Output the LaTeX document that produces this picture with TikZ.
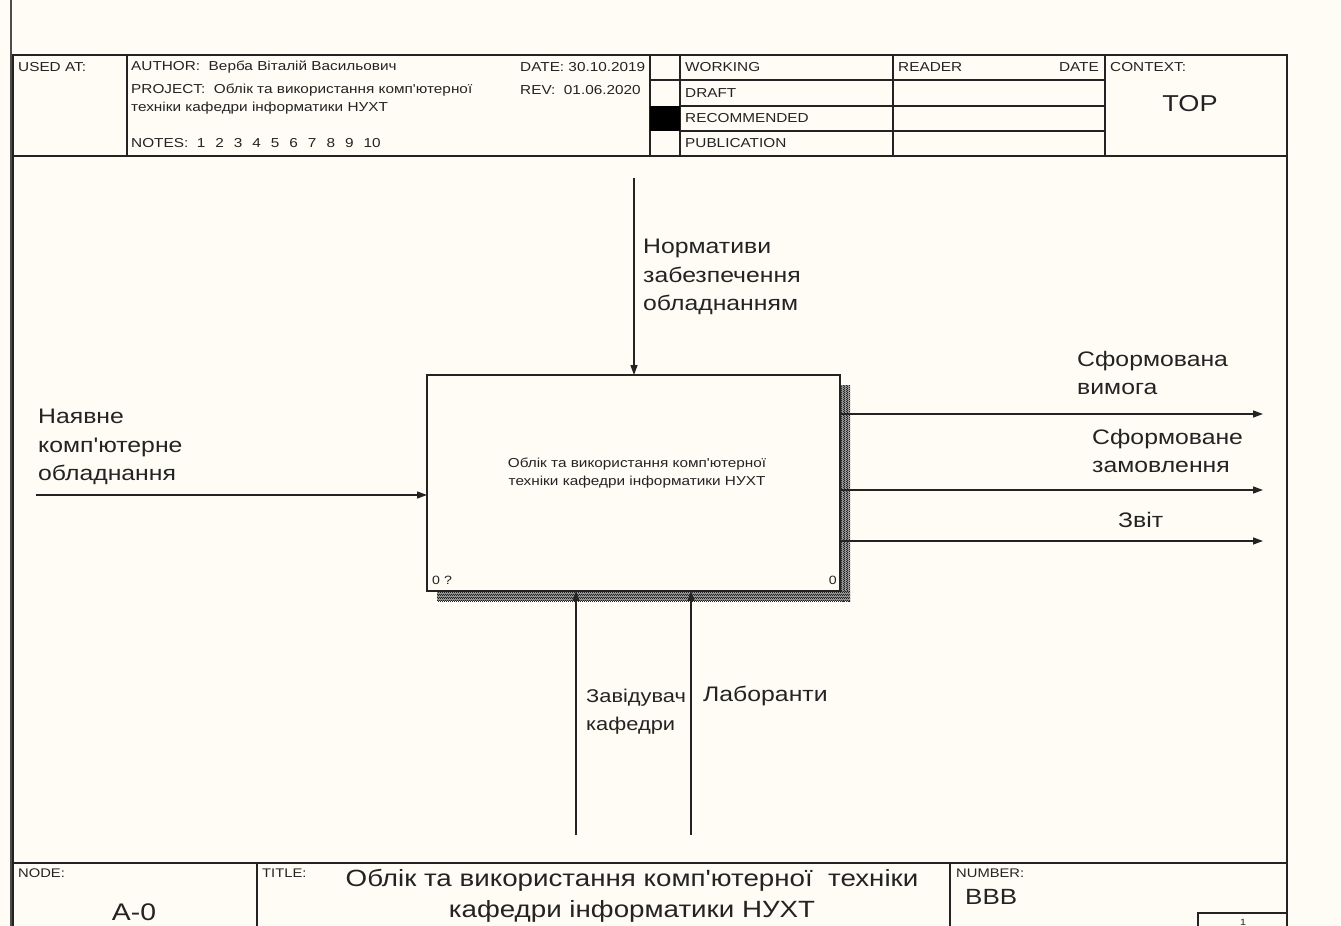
\documentclass[tikz,border=0pt]{standalone}
\usepackage{fontspec}
\setmainfont{Liberation Sans}[FakeStretch=1.18,Ligatures=TeXOff]
\usetikzlibrary{arrows.meta,patterns}
\definecolor{bg}{RGB}{254,252,244}
\definecolor{ln}{RGB}{35,35,35}
\pgfdeclarepatternformonly{finechecker}{\pgfpointorigin}{\pgfqpoint{2.4pt}{2.4pt}}{\pgfqpoint{2.4pt}{2.4pt}}{%
  \pgfpathrectangle{\pgfpointorigin}{\pgfqpoint{1.2pt}{1.2pt}}%
  \pgfpathrectangle{\pgfqpoint{1.2pt}{1.2pt}}{\pgfqpoint{1.2pt}{1.2pt}}%
  \pgfusepath{fill}}
\begin{document}
\begin{tikzpicture}[x=1pt,y=-1pt,
 frame/.style={draw=ln,line width=1.3pt},
 hdr/.style={font=\fontsize{13}{15}\selectfont,inner sep=0,anchor=west,text=ln},
 tiny/.style={font=\fontsize{12.5}{14}\selectfont,inner sep=0,anchor=west,text=ln},
 lbl/.style={font=\fontsize{21}{28.5}\selectfont,inner sep=0,anchor=north west,align=left,text=ln},
 shadow/.style={fill=ln!45,postaction={pattern=finechecker,pattern color=ln}},
 flow/.style={draw=ln,line width=1.3pt,-{Triangle[length=10pt,width=7pt]}}]
\useasboundingbox[fill=bg] (0,0) rectangle (1341,926);
% left edge
\draw[line width=2.5pt,draw=gray!60!black] (11,0) -- (11,926);
% header
\draw[frame] (13,55) rectangle (1287,156);
\foreach \x in {127,650,680,893,1105} \draw[frame] (\x,55) -- (\x,156);
\draw[frame] (650,80) -- (1105,80);
\draw[frame] (680,106) -- (1105,106);
\draw[frame] (680,131) -- (1105,131);
\fill[black] (650,106) rectangle (680,131);
\node[hdr] (usedat) at (18,67) {USED AT:};
\node[hdr] (author) at (131,67) {AUTHOR:\ \ Верба Віталій Васильович};
\node[hdr] (proj) at (131,90) {PROJECT:\ \ Облік та використання комп'ютерної};
\node[hdr] (proj2) at (131,108) {техніки кафедри інформатики НУХТ};
\node[hdr] (notes) at (131,143) {NOTES:\hspace{8.5pt}1\hspace{10pt}2\hspace{10pt}3\hspace{10pt}4\hspace{10pt}5\hspace{10pt}6\hspace{10pt}7\hspace{10pt}8\hspace{10pt}9\hspace{10pt}10};
\node[hdr] (date) at (520,67) {DATE: 30.10.2019};
\node[hdr] (rev) at (520,90) {REV:\ \ 01.06.2020};
\node[hdr] (working) at (685,67) {WORKING};
\node[hdr] (draft) at (685,93) {DRAFT};
\node[hdr] (recom) at (685,118) {RECOMMENDED};
\node[hdr] (publ) at (685,143) {PUBLICATION};
\node[hdr] (reader) at (898,67) {READER};
\node[hdr,anchor=east] (rdate) at (1099,67) {DATE};
\node[hdr] (context) at (1110,67) {CONTEXT:};
\node[font=\fontsize{23}{26}\selectfont,inner sep=0,text=ln] (top) at (1190,104) {TOP};
% body frame
\draw[frame] (13,156) -- (13,926);
\draw[frame] (1287,156) -- (1287,926);
\draw[frame] (13,863) -- (1287,863);
\draw[frame] (257,863) -- (257,926);
\draw[frame] (950,863) -- (950,926);
\draw[frame] (1198,926) -- (1198,913) -- (1287,913);
\node[font=\fontsize{9}{10}\selectfont,inner sep=0,text=ln] (pg) at (1243,922) {1};
% footer texts
\node[tiny] (nodelbl) at (18,873) {NODE:};
\node[tiny] (titlelbl) at (262,873) {TITLE:};
\node[tiny] (numlbl) at (956,873) {NUMBER:};
\node[font=\fontsize{24}{26}\selectfont,inner sep=0,text=ln] (a0) at (134,912) {A-0};
\node[font=\fontsize{23.5}{31}\selectfont,inner sep=0,align=center,text=ln] (title) at (632,896) {Облік та використання комп'ютерної\ \ техніки\\кафедри інформатики НУХТ};
\node[font=\fontsize{22}{24}\selectfont,inner sep=0,anchor=west,text=ln] (bbb) at (965,897) {BBB};
% shadow
\path[shadow] (840,385) rectangle (850,601);
\path[shadow] (437,591) rectangle (850,601);
% main box
\node[draw=ln,line width=1.3pt,fill=bg,minimum width=413pt,minimum height=216pt,inner sep=0,outer sep=0] (box) at (633.5,483) {};
\node[font=\fontsize{13}{18}\selectfont,inner sep=0,align=center,text=ln] (boxtxt) at (637,473) {Облік та використання комп'ютерної\\техніки кафедри інформатики НУХТ};
\node[font=\fontsize{12}{14}\selectfont,inner sep=0,anchor=west,text=ln] (num1) at (432,580) {0 ?};
\node[font=\fontsize{12}{14}\selectfont,inner sep=0,anchor=east,text=ln] (num2) at (837,580) {0};
% flows
\coordinate (ctlS) at (634,178);
\draw[flow] (ctlS) -- (ctlS |- box.north);
\coordinate (inS) at (36,495);
\draw[flow] (inS) -- (inS -| box.west);
\coordinate (o1) at (1263,414);
\coordinate (o2) at (1263,490);
\coordinate (o3) at (1263,541);
\draw[flow] (o1 -| box.east) -- (o1);
\draw[flow] (o2 -| box.east) -- (o2);
\draw[flow] (o3 -| box.east) -- (o3);
\coordinate (m1) at (576,835);
\coordinate (m2) at (691,835);
\draw[flow] (m1) -- (m1 |- box.south);
\draw[flow] (m2) -- (m2 |- box.south);
% labels
\node[lbl] (lctl) at (643,239) {Нормативи\\забезпечення\\обладнанням};
\node[lbl] (lin) at (38,409) {Наявне\\комп'ютерне\\обладнання};
\node[lbl] (lo1) at (1077,351) {Сформована\\вимога};
\node[lbl] (lo2) at (1092,429) {Сформоване\\замовлення};
\node[lbl] (lo3) at (1118,512) {Звіт};
\node[lbl,font=\fontsize{18.5}{28}\selectfont] (lm1) at (586,689) {Завідувач\\кафедри};
\node[lbl] (lm2) at (703,686) {Лаборанти};
\end{tikzpicture}
\end{document}
